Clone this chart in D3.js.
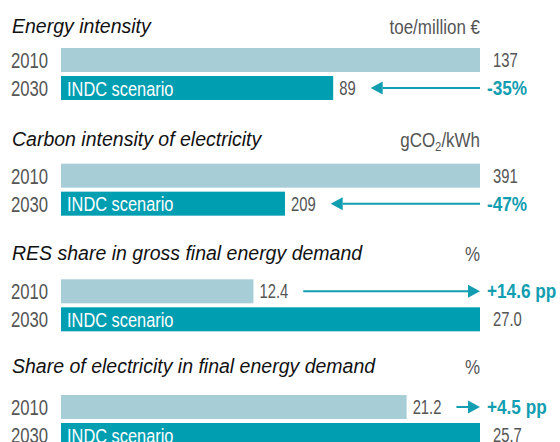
<!DOCTYPE html>
<html>
<head>
<meta charset="utf-8">
<script src="https://cdn.jsdelivr.net/npm/d3@7"></script>
<style>
  body { margin: 0; background: #fff; }
  svg { display: block; }
  text { font-family: "Liberation Sans", Arial, sans-serif; }
</style>
</head>
<body>
<svg id="chart"></svg>
<script>
// ---- DATA ----
const titles = [
  "Energy intensity",
  "Carbon intensity of electricity",
  "RES share in gross final energy demand",
  "Share of electricity in final energy demand"
];
const units = ["toe/million €", "gCO2/kWh", "%", "%"];
const years = ["2010", "2030"];
const scenarioLabel = "INDC scenario";
const values2010 = [137, 391, 12.4, 21.2];
const values2030 = [89, 209, 27.0, 25.7];
const decimals = [0, 0, 1, 1];
const changeLabels = ["-35%", "-47%", "+14.6 pp", "+4.5 pp"];

const width = 560, height = 442;
const lightBar = "#a7cdd7", darkBar = "#009eb1", accent = "#129db1", grey = "#555";

const svg = d3.select("#chart").attr("width", width).attr("height", height);

// no condensed font installed, so squeeze a regular one horizontally
function narrowText(sel, x, y, sx) {
  return sel.append("text")
    .attr("transform", `translate(${x}, ${y}) scale(${sx}, 1)`);
}

const panels = titles.map((t, i) => ({
  i: i, title: t, unit: units[i],
  rows: [values2010[i], values2030[i]],
  max: Math.max(values2010[i], values2030[i]),
  fmt: d3.format("." + decimals[i] + "f"),
  change: changeLabels[i]
}));

// panel vertical placement
const titleY = d3.scaleLinear().domain([0, 3]).range([33, 373]);
const barTop = d3.scaleLinear().domain([0, 3]).range([48, 395]);

// row band inside a panel
const yRow = d3.scaleBand().domain(years).range([0, 52]).paddingInner(4 / 28);
const mid = yr => yRow(yr) + yRow.bandwidth() / 2;

const x0 = 61, x1 = 480;
const sxYear = 0.76, sxVal = 0.76, sxChange = 0.86, sxUnit = 0.87;

panels.forEach(p => {
  const x = d3.scaleLinear().domain([0, p.max]).range([x0, x1]);
  const g = svg.append("g");

  g.append("text")
    .attr("x", 12).attr("y", titleY(p.i))
    .attr("font-style", "italic")
    .attr("font-size", 19.5)
    .attr("fill", "#111")
    .text(p.title);

  const unit = narrowText(g, x1, titleY(p.i) + 1, sxUnit)
    .attr("text-anchor", "end")
    .attr("font-size", 19.5)
    .attr("fill", grey);
  if (p.unit.includes("CO2")) {
    unit.append("tspan").text("gCO");
    unit.append("tspan").attr("font-size", 13).attr("dy", 4).text("2");
    unit.append("tspan").attr("dy", -4).text("/kWh");
  } else {
    unit.text(p.unit);
  }

  const rowsG = g.append("g").attr("transform", `translate(0, ${barTop(p.i)})`);
  const rows = years.map((yr, j) => ({ yr: yr, j: j, v: p.rows[j] }));

  rows.forEach(d => {
    narrowText(rowsG, 11, mid(d.yr) + 8, sxYear)
      .attr("font-size", 22)
      .attr("fill", grey)
      .text(d.yr);
  });

  rowsG.selectAll(".bar")
    .data(rows)
    .join("rect")
    .attr("class", "bar")
    .attr("x", x0)
    .attr("y", d => yRow(d.yr))
    .attr("width", d => x(d.v) - x0)
    .attr("height", yRow.bandwidth())
    .attr("fill", d => d.j === 0 ? lightBar : darkBar);

  narrowText(rowsG, x0 + 6, mid("2030") + 7.5, 0.78)
    .attr("font-size", 21)
    .attr("fill", "#fff")
    .text(scenarioLabel);

  const valEnds = rows.map(d => {
    const vx = x(d.v) + (d.v === p.max ? 13 : 6);
    const t = narrowText(rowsG, vx, mid(d.yr) + 7, sxVal)
      .attr("font-size", 19.5)
      .attr("fill", grey)
      .text(p.fmt(d.v));
    return vx + t.node().getComputedTextLength() * sxVal;
  });

  // change arrow sits on the row with the smaller value
  const small = p.rows[1] < p.rows[0] ? 1 : 0;
  const yc = mid(years[small]);
  const near = valEnds[small] + 15;
  const head = 12, half = 6.5;
  const tip = small === 1 ? near : x1;
  const tail = small === 1 ? x1 : near;
  const dir = small === 1 ? 1 : -1;

  rowsG.append("line")
    .attr("x1", tail).attr("x2", tip + dir * head)
    .attr("y1", yc).attr("y2", yc)
    .attr("stroke", accent).attr("stroke-width", 2);
  rowsG.append("path")
    .attr("d", d3.line()([[tip, yc], [tip + dir * head, yc - half], [tip + dir * head, yc + half]]) + "Z")
    .attr("fill", accent);

  narrowText(rowsG, 487, yc + 7, sxChange)
    .attr("font-size", 20)
    .attr("font-weight", "bold")
    .attr("fill", accent)
    .text(p.change);
});
</script>
</body>
</html>
